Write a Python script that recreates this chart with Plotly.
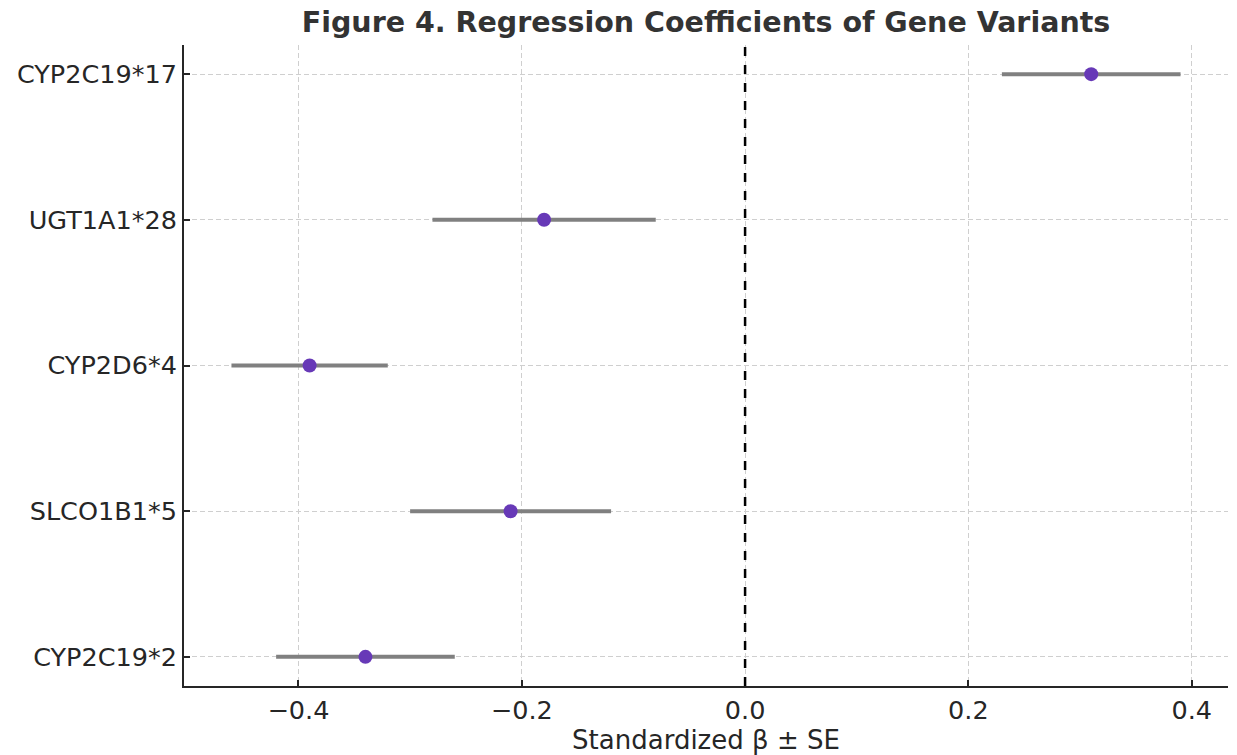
import plotly.graph_objects as go

variants = ["CYP2C19*2", "SLCO1B1*5", "CYP2D6*4", "UGT1A1*28", "CYP2C19*17"]
beta = [-0.34, -0.21, -0.39, -0.18, 0.31]
se = [0.08, 0.09, 0.07, 0.10, 0.08]

x_ticks = [-0.4, -0.2, 0.0, 0.2, 0.4]
x_tick_text = ["\u22120.4", "\u22120.2", "0.0", "0.2", "0.4"]

FONT = "DejaVu Sans"

fig = go.Figure()
fig.add_trace(go.Scatter(
    x=beta, y=variants, mode="markers",
    marker=dict(color="#6739b7", size=14, line=dict(width=0)),
    error_x=dict(type="data", array=se, visible=True, color="#808080",
                 thickness=4, width=0),
    showlegend=False,
))

fig.add_shape(type="line", x0=0, x1=0, y0=0, y1=1, xref="x", yref="paper",
              line=dict(color="black", width=2.5, dash="dash"))

fig.update_layout(
    width=1237, height=755,
    margin=dict(l=184, r=9, t=45, b=69),
    paper_bgcolor="white", plot_bgcolor="white",
    font=dict(family=FONT, color="#262626", size=25),
    title=dict(text="<b>Figure 4. Regression Coefficients of Gene Variants</b>",
               x=(184 + 1228) / 2 / 1237, xanchor="center", y=1 - 22 / 755, yanchor="middle",
               font=dict(family=FONT, size=28.5, color="#333333")),
    xaxis=dict(
        range=[-0.5025, 0.4325], tickvals=x_ticks, ticktext=x_tick_text,
        showgrid=True, gridcolor="#cfcfcf", griddash="5px,3px", gridwidth=1,
        zeroline=False, showline=True, linecolor="#262626", linewidth=2,
        ticks="inside", ticklen=6, tickwidth=1.5, tickcolor="#262626",
        tickfont=dict(size=25.5), automargin=False,
        title=dict(text="Standardized \u03b2 \u00b1 SE", font=dict(size=26), standoff=4),
    ),
    yaxis=dict(
        type="category", categoryorder="array", categoryarray=variants,
        range=[-0.2, 4.2], automargin=False,
        showgrid=True, gridcolor="#cfcfcf", griddash="5px,3px", gridwidth=1,
        zeroline=False, showline=True, linecolor="#262626", linewidth=2,
        ticks="inside", ticklen=6, tickwidth=1.5, tickcolor="#262626",
        tickfont=dict(size=25.5),
    ),
)

fig.write_html("out.html", config={"displayModeBar": False})

with open("out.html", "r", encoding="utf-8") as f:
    html = f.read()
html = html.replace("<head>", "<head><style>html,body{margin:0;padding:0;overflow:hidden;}</style>", 1)
with open("out.html", "w", encoding="utf-8") as f:
    f.write(html)
